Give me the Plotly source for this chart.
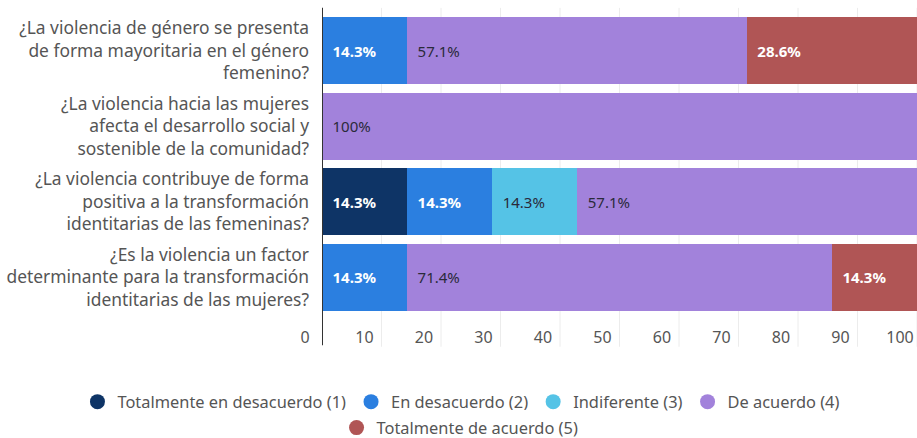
import plotly.graph_objects as go

categories = [
    "¿La violencia de género se presenta<br>de forma mayoritaria en el género<br>femenino?",
    "¿La violencia hacia las mujeres<br>afecta el desarrollo social y<br>sostenible de la comunidad?",
    "¿La violencia contribuye de forma<br>positiva a la transformación<br>identitarias de las femeninas?",
    "¿Es la violencia un factor<br>determinante para la transformación<br>identitarias de las mujeres?",
]
series_names = [
    "Totalmente en desacuerdo (1)",
    "En desacuerdo (2)",
    "Indiferente (3)",
    "De acuerdo (4)",
    "Totalmente de acuerdo (5)",
]
totalmente_desacuerdo = [0, 0, 14.3, 0]
en_desacuerdo = [14.3, 0, 14.3, 14.3]
indiferente = [0, 0, 14.3, 0]
de_acuerdo = [57.1, 100, 57.1, 71.4]
totalmente_acuerdo = [28.6, 0, 0, 14.3]
x_ticks = [0, 10, 20, 30, 40, 50, 60, 70, 80, 90, 100]

series_values = [totalmente_desacuerdo, en_desacuerdo, indiferente, de_acuerdo, totalmente_acuerdo]
colors = ["#0e3466", "#2b7fe0", "#55c3e6", "#a282db", "#b05555"]
text_colors = ["white", "white", "#2a2a3a", "#2a2a3a", "white"]
text_bold = [True, True, False, False, True]

FONT = "Noto Sans"
PAD = "\u2002"
fig = go.Figure()
for name, vals, col, tc, b in zip(series_names, series_values, colors, text_colors, text_bold):
    txt = [(PAD + (f"<b>{v:g}%</b>" if b else f"{v:g}%")) if v > 0 else "" for v in vals]
    fig.add_trace(go.Bar(
        y=categories, x=vals, orientation="h", name=name,
        marker=dict(color=col, line=dict(width=0)),
        text=txt, textposition="inside", insidetextanchor="start",
        textangle=0, constraintext="none",
        insidetextfont=dict(family=FONT, size=15, color=tc),
        hoverinfo="x+name", showlegend=False,
    ))

# legend entries with circle markers, split over two legends (two rows)
for i, (name, col) in enumerate(zip(series_names, colors)):
    fig.add_trace(go.Scatter(
        x=[None], y=[None], mode="markers", name=name,
        marker=dict(symbol="circle", size=15, color=col),
        legend="legend" if i < 4 else "legend2", showlegend=True,
    ))

# gridlines (extended below the plot area) and the left axis line
shapes = []
for t in x_ticks[1:]:
    shapes.append(dict(type="line", xref="x", yref="paper", x0=t, x1=t, y0=-0.105, y1=1.017,
                       line=dict(color="#ececec", width=1), layer="below"))
shapes.append(dict(type="line", xref="x", yref="paper", x0=0, x1=0, y0=-0.1, y1=1.017,
                   line=dict(color="#333333", width=2)))

fig.update_layout(
    width=917, height=438,
    margin=dict(l=322, r=0, t=13, b=123, autoexpand=False),
    barmode="stack", bargap=0.107,
    paper_bgcolor="white", plot_bgcolor="white",
    font=dict(family=FONT, size=16, color="#555555"),
    shapes=shapes,
    xaxis=dict(range=[0, 100], tickvals=x_ticks, ticktext=[str(t) for t in x_ticks],
               showgrid=False, zeroline=False, showline=False, ticks="",
               ticklabelshift=-17, ticklabelstandoff=11, automargin=False,
               tickfont=dict(family=FONT, size=16, color="#555555"), fixedrange=True),
    yaxis=dict(autorange="reversed", showgrid=False, zeroline=False, showline=False, ticks="",
               ticklabelstandoff=12, automargin=False,
               tickfont=dict(family=FONT, size=17.4, color="#555555")),
    legend=dict(orientation="h", xref="paper", yref="paper", x=-0.411, y=-0.288,
                xanchor="left", yanchor="middle", traceorder="normal",
                font=dict(family=FONT, size=16.4, color="#555555"), itemwidth=30),
    legend2=dict(orientation="h", xref="paper", yref="paper", x=0.232, y=-0.374,
                 xanchor="center", yanchor="middle", traceorder="normal",
                 font=dict(family=FONT, size=16.4, color="#555555"), itemwidth=30),
)

fig.write_html("out.html", config={"displayModeBar": False},
               post_script="document.body.style.margin='0';")
